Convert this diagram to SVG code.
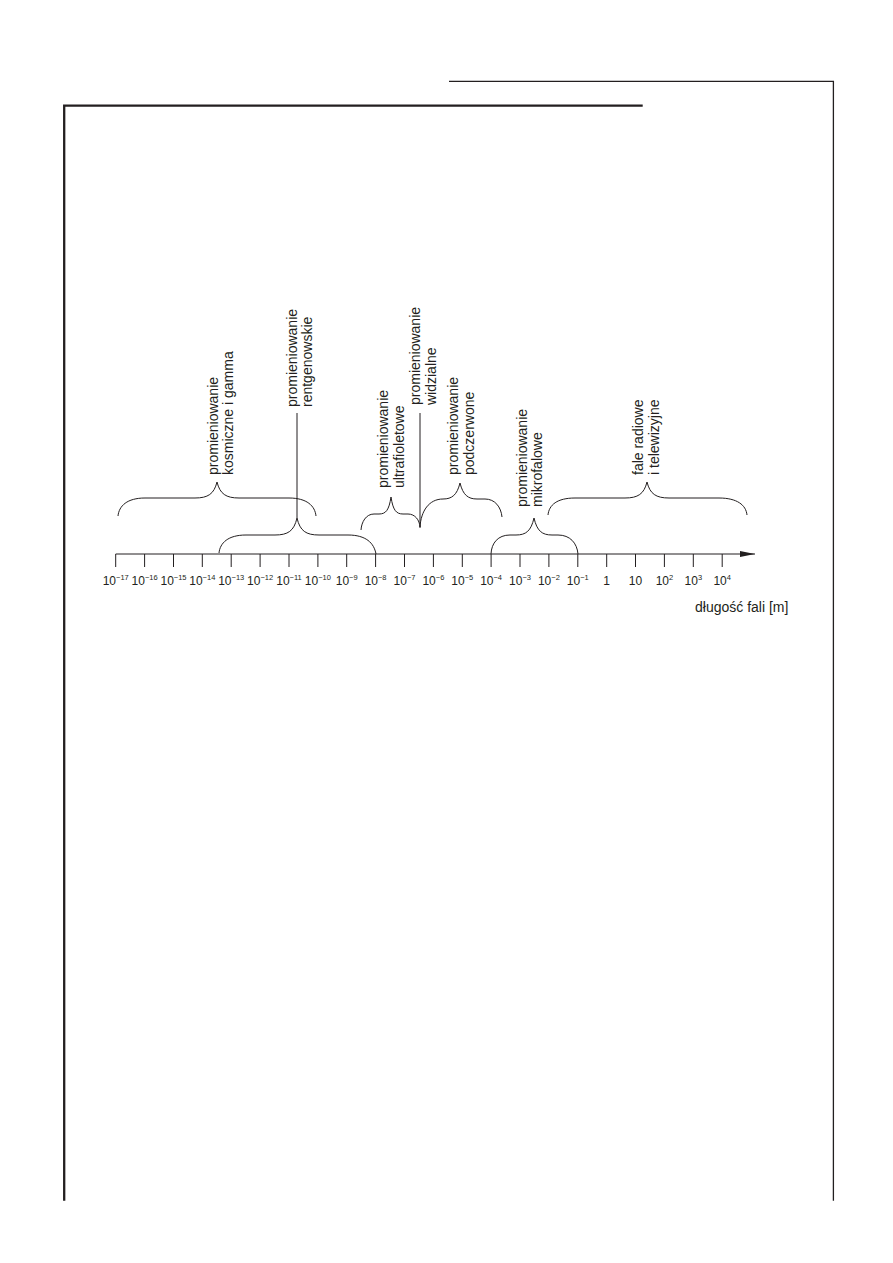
<svg xmlns="http://www.w3.org/2000/svg" width="893" height="1263" viewBox="0 0 893 1263">
<defs>
<style>
.frame{fill:none;stroke:#231f20}
.br{fill:none;stroke:#231f20;stroke-width:1}
.tk{stroke:#231f20;stroke-width:1}
.lbl{font-family:"Liberation Sans",Arial,sans-serif;font-size:14px;fill:#231f20}
.tl{font-family:"Liberation Sans",Arial,sans-serif;font-size:12px;fill:#231f20;text-anchor:middle}
.sup{font-size:7.5px}
</style>
<marker id="arr" markerWidth="16" markerHeight="8" refX="15" refY="4" orient="auto" markerUnits="userSpaceOnUse">
<path d="M0,1 L15,4 L0,7 Z" fill="#231f20"/>
</marker>
</defs>
<rect width="893" height="1263" fill="#fff"/>
<g id="frame">
<path class="frame" stroke-width="1.3" d="M449,81.4 H833.4 V1200.7"/>
<path class="frame" stroke-width="2.3" d="M642.7,105.6 H64.2 V1200.7"/>
</g>
<g id="axis">
<line class="tk" x1="115.7" y1="554" x2="755" y2="554" marker-end="url(#arr)"/>
<g id="ticks">
<line class="tk" x1="115.7" y1="554" x2="115.7" y2="567"/>
<line class="tk" x1="144.6" y1="554" x2="144.6" y2="567"/>
<line class="tk" x1="173.5" y1="554" x2="173.5" y2="567"/>
<line class="tk" x1="202.3" y1="554" x2="202.3" y2="567"/>
<line class="tk" x1="231.2" y1="554" x2="231.2" y2="567"/>
<line class="tk" x1="260.1" y1="554" x2="260.1" y2="567"/>
<line class="tk" x1="289" y1="554" x2="289" y2="567"/>
<line class="tk" x1="317.9" y1="554" x2="317.9" y2="567"/>
<line class="tk" x1="346.7" y1="554" x2="346.7" y2="567"/>
<line class="tk" x1="375.6" y1="554" x2="375.6" y2="567"/>
<line class="tk" x1="404.5" y1="554" x2="404.5" y2="567"/>
<line class="tk" x1="433.4" y1="554" x2="433.4" y2="567"/>
<line class="tk" x1="462.3" y1="554" x2="462.3" y2="567"/>
<line class="tk" x1="491.1" y1="554" x2="491.1" y2="567"/>
<line class="tk" x1="520" y1="554" x2="520" y2="567"/>
<line class="tk" x1="548.9" y1="554" x2="548.9" y2="567"/>
<line class="tk" x1="577.8" y1="554" x2="577.8" y2="567"/>
<line class="tk" x1="606.7" y1="554" x2="606.7" y2="567"/>
<line class="tk" x1="635.5" y1="554" x2="635.5" y2="567"/>
<line class="tk" x1="664.4" y1="554" x2="664.4" y2="567"/>
<line class="tk" x1="693.3" y1="554" x2="693.3" y2="567"/>
<line class="tk" x1="722.2" y1="554" x2="722.2" y2="567"/>
</g>
<g id="tick-labels">
<text class="tl" x="115.7" y="585">10<tspan class="sup" dy="-5">−17</tspan></text>
<text class="tl" x="144.6" y="585">10<tspan class="sup" dy="-5">−16</tspan></text>
<text class="tl" x="173.5" y="585">10<tspan class="sup" dy="-5">−15</tspan></text>
<text class="tl" x="202.3" y="585">10<tspan class="sup" dy="-5">−14</tspan></text>
<text class="tl" x="231.2" y="585">10<tspan class="sup" dy="-5">−13</tspan></text>
<text class="tl" x="260.1" y="585">10<tspan class="sup" dy="-5">−12</tspan></text>
<text class="tl" x="289" y="585">10<tspan class="sup" dy="-5">−11</tspan></text>
<text class="tl" x="317.9" y="585">10<tspan class="sup" dy="-5">−10</tspan></text>
<text class="tl" x="346.7" y="585">10<tspan class="sup" dy="-5">−9</tspan></text>
<text class="tl" x="375.6" y="585">10<tspan class="sup" dy="-5">−8</tspan></text>
<text class="tl" x="404.5" y="585">10<tspan class="sup" dy="-5">−7</tspan></text>
<text class="tl" x="433.4" y="585">10<tspan class="sup" dy="-5">−6</tspan></text>
<text class="tl" x="462.3" y="585">10<tspan class="sup" dy="-5">−5</tspan></text>
<text class="tl" x="491.1" y="585">10<tspan class="sup" dy="-5">−4</tspan></text>
<text class="tl" x="520" y="585">10<tspan class="sup" dy="-5">−3</tspan></text>
<text class="tl" x="548.9" y="585">10<tspan class="sup" dy="-5">−2</tspan></text>
<text class="tl" x="577.8" y="585">10<tspan class="sup" dy="-5">−1</tspan></text>
<text class="tl" x="606.7" y="585">1</text>
<text class="tl" x="635.5" y="585">10</text>
<text class="tl" x="664.4" y="585">10<tspan class="sup" dy="-5">2</tspan></text>
<text class="tl" x="693.3" y="585">10<tspan class="sup" dy="-5">3</tspan></text>
<text class="tl" x="722.2" y="585">10<tspan class="sup" dy="-5">4</tspan></text>
</g>
<text id="axis-title" class="lbl" x="695" y="612">długość fali [m]</text>
</g>
<g id="connectors">
<line class="br" x1="297" y1="413" x2="297" y2="518"/>
<line class="br" x1="420" y1="413" x2="420" y2="528"/>
</g>
<g id="gamma">
<path class="br" d="M118,516 C119,506 127,498 145,498 L195,498 C208,498 214,494 217,482 C220,494 226,498 239,498 L289,498 C307,498 315,506 316,516"/>
<text class="lbl" transform="translate(218,475) rotate(-90)"><tspan x="0" y="0">promieniowanie</tspan><tspan x="0" y="15">kosmiczne i gamma</tspan></text>
</g>
<g id="xray">
<path class="br" d="M219,553 C220,543 228,535 246,535 L275,535 C288,535 294,531 297,518 C300,531 306,535 319,535 L348,535 C366,535 374,543 376,554"/>
<text class="lbl" transform="translate(297,407) rotate(-90)"><tspan x="0" y="0">promieniowanie</tspan><tspan x="0" y="15">rentgenowskie</tspan></text>
</g>
<g id="uv">
<path class="br" d="M361,530 C361.5,522 366,514 374,514 L379,514 C386,514 389,510 391,497 C393,510 396,514 403,514 L408,514 C415,514 419.5,520 420,527"/>
<text class="lbl" transform="translate(388,488) rotate(-90)"><tspan x="0" y="0">promieniowanie</tspan><tspan x="0" y="15.5">ultrafioletowe</tspan></text>
</g>
<g id="visible">
<text class="lbl" transform="translate(420,405) rotate(-90)"><tspan x="0" y="0">promieniowanie</tspan><tspan x="0" y="15.5">widzialne</tspan></text>
</g>
<g id="ir">
<path class="br" d="M420,527 C421,511 429,499 443,499 C452,499 457,495 460,483 C463,495 468,499 477,499 L485,499 C495,499 501,507 502,517"/>
<text class="lbl" transform="translate(458,475) rotate(-90)"><tspan x="0" y="0">promieniowanie</tspan><tspan x="0" y="15.5">podczerwone</tspan></text>
</g>
<g id="microwave">
<path class="br" d="M491,554 C491.5,543 498,535 510,535 L516,535 C526,535 531,531 534,518 C537,531 542,535 552,535 L558,535 C570,535 577,543 578,554"/>
<text class="lbl" transform="translate(527,507) rotate(-90)"><tspan x="0" y="0">promieniowanie</tspan><tspan x="0" y="15">mikrofalowe</tspan></text>
</g>
<g id="radio">
<path class="br" d="M548,515 C549,505 557,498 575,498 L625,498 C638,498 644,494 647,482 C650,494 656,498 669,498 L719,498 C737,498 746,505 747,515"/>
<text class="lbl" transform="translate(643,475) rotate(-90)"><tspan x="0" y="0">fale radiowe</tspan><tspan x="0" y="16">i telewizyjne</tspan></text>
</g>
</svg>
